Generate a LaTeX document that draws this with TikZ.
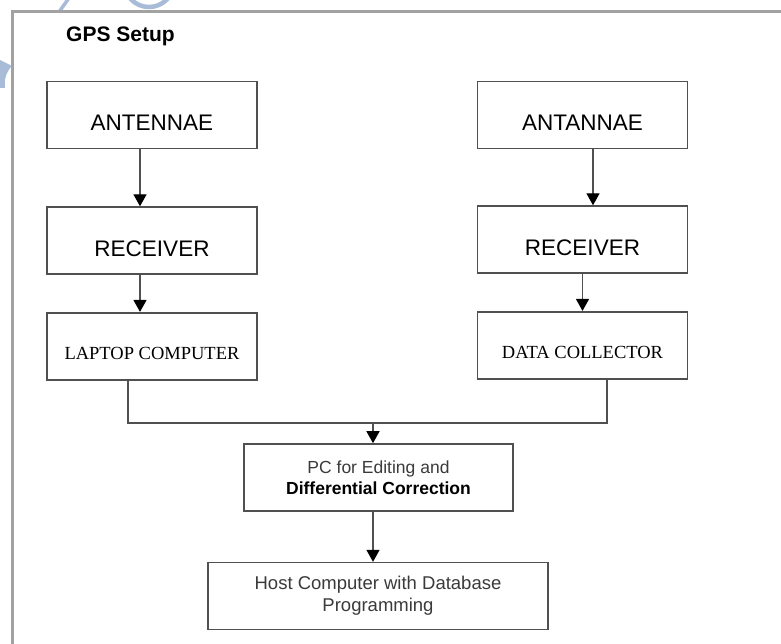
\documentclass[tikz,border=0pt]{standalone}
\usepackage{fontspec}
\setmainfont{Liberation Serif}
\setsansfont{Liberation Sans}
\usetikzlibrary{positioning,arrows.meta}
\definecolor{sheetgray}{HTML}{A2A2A2}
\definecolor{edge}{HTML}{505050}
\definecolor{ink}{HTML}{3A3A3A}
\definecolor{smudge}{HTML}{A8BCD8}

\begin{document}
\begin{tikzpicture}[x=1pt,y=1pt,
  box/.style={draw=edge,line width=1.6pt,minimum width=210,minimum height=67,inner sep=0pt,align=center},
  capsbox/.style={box,font=\sffamily\fontsize{22.5}{27}\selectfont,text height=32pt,text depth=0pt},
  serifbox/.style={box,font=\rmfamily\fontsize{18.5}{22}\selectfont,text height=27pt,text depth=0pt},
  pcbox/.style={box,font=\sffamily\fontsize{17.5}{21}\selectfont},
  link/.style={draw=edge,line width=1.4pt},
  arr/.style={link,-{Triangle[length=12pt,width=13pt,color=black]}}]
  \path[use as bounding box,clip] (0,0) rectangle (781,-644);
  % faint marks behind the sheet
  \draw[smudge,line width=4.5pt] (149,18) circle (25);
  \draw[smudge,line width=3.5pt] (69,2) -- (59,-12);
  \fill[smudge] (0,-60) -- (12,-66) .. controls (6,-72) and (4,-80) .. (5,-88) -- (0,-88) -- cycle;
  % sheet border, cut off at right and bottom
  \draw[sheetgray,line width=3pt] (12,-660) |- (800,-12);
  \node[anchor=base west,inner sep=0pt,font=\sffamily\bfseries\fontsize{21}{25}\selectfont] (title) at (66,-42) {GPS Setup};
  % two receiver chains
  \node[capsbox] (antL) at (152,-115) {ANTENNAE};
  \node[capsbox,below=57pt of antL] (recL) {RECEIVER};
  \node[serifbox,below=37pt of recL] (lapL) {LAPTOP COMPUTER};
  \node[capsbox] (antR) at (582.5,-115) {ANTANNAE};
  \node[capsbox,below=56pt of antR] (recR) {RECEIVER};
  \node[serifbox,below=37pt of recR] (datR) {DATA COLLECTOR};
  % processing
  \node[pcbox,minimum width=269] (pc) at (378.5,-477.5) {\color{ink}PC for Editing and\\\textbf{Differential Correction}};
  \node[pcbox,minimum width=340,below=50pt of pc,xshift=-0.5pt,font=\sffamily\fontsize{18.5}{22}\selectfont,text=ink] (host) {Host Computer with Database\\Programming};
  \coordinate (join) at (373,-423);
  \draw[arr] ([xshift=-12pt]antL.south) -- ([xshift=-12pt]recL.north);
  \draw[arr] ([xshift=-12pt]recL.south) -- ([xshift=-12pt]lapL.north);
  \draw[arr] ([xshift=10.5pt]antR.south) -- ([xshift=10.5pt]recR.north);
  \draw[arr] (recR.south) -- (datR.north);
  \draw[link] ([xshift=-24pt]lapL.south) |- (join) -| ([xshift=24.5pt]datR.south);
  \draw[arr] (join) -- (join |- pc.north);
  \draw[arr] (pc.south -| join) -- (join |- host.north);
\end{tikzpicture}
\end{document}
